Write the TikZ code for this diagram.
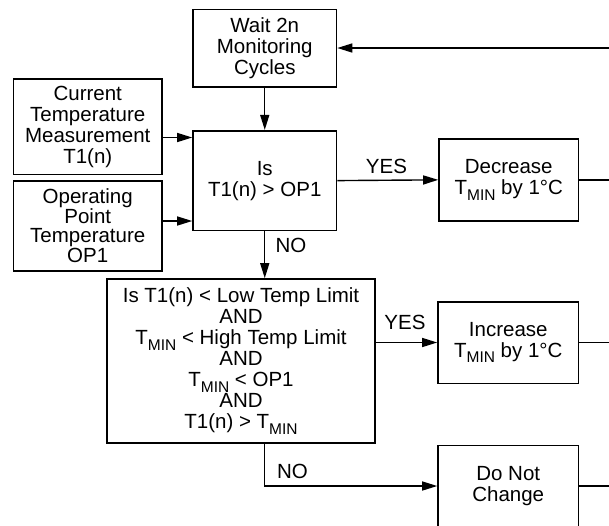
\documentclass[tikz,border=0pt]{standalone}
\usepackage{fontspec}
\setmainfont{Liberation Sans}
\usetikzlibrary{arrows.meta}
\newcommand\tmin{T\raisebox{-5.5pt}{\fontsize{15.5}{15.5}\selectfont MIN}}
\tikzset{
 box/.style={draw, line width=1.6pt, inner sep=0pt, align=center,
   font=\fontsize{20.5}{21}\selectfont, execute at begin node={\lineskiplimit=-30pt}},
 arr/.style={line width=1.4pt, -{Triangle[length=15pt,width=9pt]}},
 ln/.style={line width=1.4pt},
 lbl/.style={font=\fontsize{20.5}{21}\selectfont, inner sep=0pt}
}
\begin{document}
\begin{tikzpicture}[x=1pt,y=-1pt]
\clip (0,0) rectangle (609,525);
\node[box, minimum width=143.5pt, minimum height=77.4pt] (wait) at (264.75,48) {Wait 2n\\Monitoring\\Cycles};
\node[box, minimum width=148.5pt, minimum height=95.5pt] (cur) at (87.75,126.75) {Current\\Temperature\\Measurement\\T1(n)};
\node[box, minimum width=148.5pt, minimum height=90.3pt, font=\fontsize{20.5}{19.5}\selectfont] (op) at (87.75,225.85) {Operating\\Point\\Temperature\\OP1};
\node[box, minimum width=143.5pt, minimum height=99.8pt] (d1) at (264.75,180.6) {Is\\T1(n) > OP1};
\node[box, minimum width=139.5pt, minimum height=81.7pt] (dec) at (508.75,179.85) {Decrease\\\tmin{} by 1°C};
\node[box, minimum width=268pt, minimum height=164pt] (d2) at (241,361) {Is T1(n) < Low Temp Limit\\AND\\\tmin{} < High Temp Limit\\AND\\\tmin{} < OP1\\AND\\T1(n) > \tmin};
\node[box, minimum width=140.5pt, minimum height=81.6pt] (inc) at (508.25,342.5) {Increase\\\tmin{} by 1°C};
\node[box, minimum width=140.5pt, minimum height=81pt] (dnc) at (508.25,486) {Do Not\\Change};

\node[lbl] (yes1) at (386.5,166) {YES};
\node[lbl] (yes2) at (405,322.5) {YES};
\node[lbl] (no1) at (291,245.3) {NO};
\node[lbl] (no2) at (292.5,471.7) {NO};

\coordinate (re) at (615,0);
\coordinate (a1) at (0,137.5);
\coordinate (a2) at (0,221);

\draw[arr] (wait.east -| re) -- (wait.east);
\draw[arr] (wait.south) -- (d1.north);
\draw[arr] (cur.east |- a1) -- (d1.west |- a1);
\draw[arr] (op.east |- a2) -- (d1.west |- a2);
\draw[arr] (d1.east) -- (dec.west);
\draw[ln] (dec.east) -- (dec.east -| re);
\draw[arr] (d1.south) -- (d1.south |- d2.north);
\draw[arr] (d2.east |- inc.west) -- (inc.west);
\draw[ln] (inc.east) -- (inc.east -| re);
\draw[arr] (d1.south |- d2.south) |- (dnc.west);
\draw[ln] (dnc.east) -- (dnc.east -| re);
\end{tikzpicture}
\end{document}
